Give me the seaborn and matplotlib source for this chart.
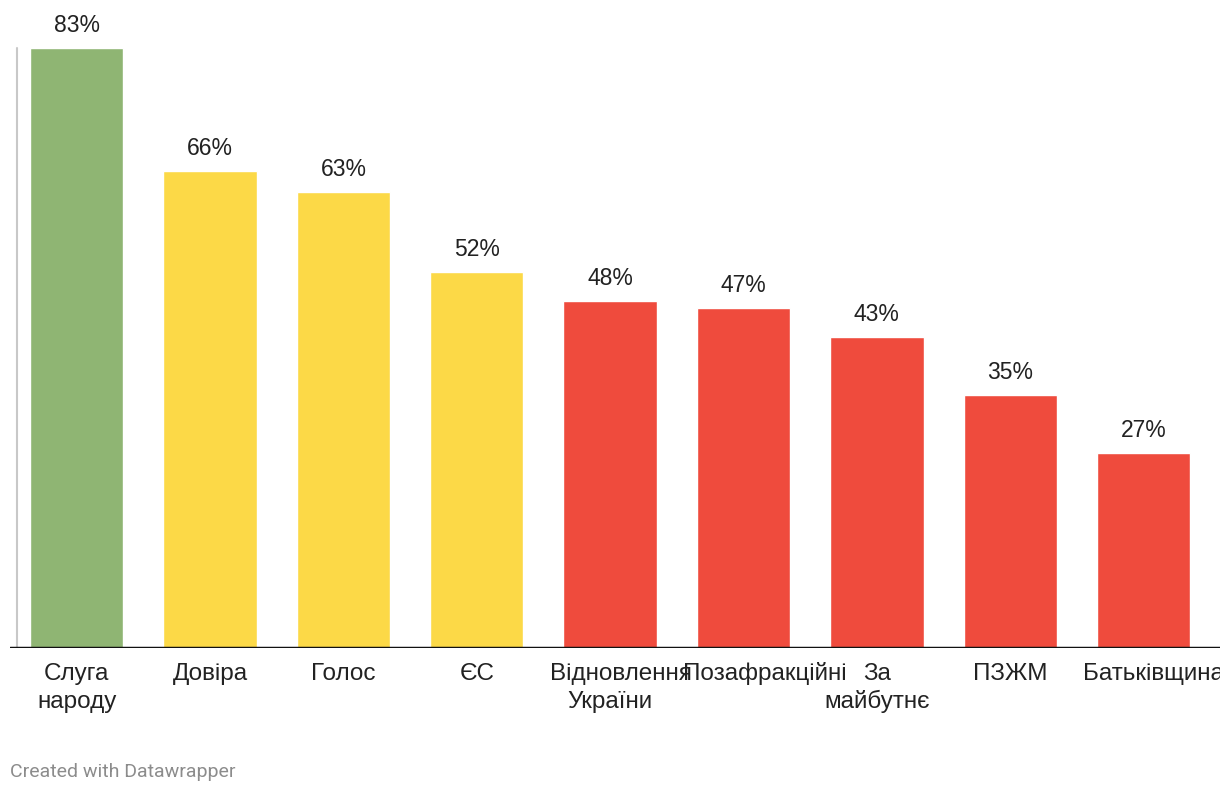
import pandas as pd
import matplotlib
matplotlib.use("Agg")
import matplotlib.pyplot as plt
import seaborn as sns

# Data
parties = ["Слуга\nнароду", "Довіра", "Голос", "ЄС", "Відновлення\nУкраїни",
           "Позафракційні", "За\nмайбутнє", "ПЗЖМ", "Батьківщина"]
shares = [83, 66, 63, 52, 48, 47, 43, 35, 27]
bar_colors = ["#8FB573", "#FCD947", "#FCD947", "#FCD947", "#EF4B3D",
              "#EF4B3D", "#EF4B3D", "#EF4B3D", "#EF4B3D"]

df = pd.DataFrame({"party": parties, "share": shares})

sns.set_style("white")
plt.rcParams['font.family'] = ['Liberation Sans', 'DejaVu Sans']

fig = plt.figure(figsize=(12.2, 7.96), dpi=100)
ax = fig.add_axes([10 / 1220, 148 / 796, 1210 / 1220, 648 / 796])

sns.barplot(data=df, x="party", y="share", hue="party", palette=bar_colors,
            width=0.7, saturation=1, legend=False, ax=ax)

# value labels above bars
for cont in ax.containers:
    ax.bar_label(cont, labels=[f"{v:.0f}%" for v in cont.datavalues],
                 padding=8, fontsize=16.5, color="#222222")

ax.set_xlim(-0.5, 8.573)
ax.set_ylim(0, 89.6)

# thin grey line on the left and black baseline
ax.axvline(-0.446, ymin=0, ymax=83 / 89.6, color="#c8c8c8", lw=1.5)
ax.axhline(0, color="#111111", lw=2.5)

for s in ax.spines.values():
    s.set_visible(False)
ax.set_yticks([])
ax.set_xticks(range(len(parties)))
ax.set_xticklabels([])
ax.tick_params(axis="x", length=0)
ax.set_xlabel("")
ax.set_ylabel("")

# category labels: centred in a ~121px box, long lines overflow to the right
fig.canvas.draw()
renderer = fig.canvas.get_renderer()
box_w = 121
for i, name in enumerate(parties):
    for j, line in enumerate(name.split("\n")):
        t = ax.annotate(line, xy=(i, 0), xycoords=("data", "axes fraction"),
                        xytext=(0, -32 - 28 * j), textcoords="offset pixels",
                        ha="center", va="baseline", fontsize=17.5,
                        color="#222222", annotation_clip=False)
        w = t.get_window_extent(renderer).width
        if w > box_w:
            t.set_ha("left")
            t.set_position((-box_w / 2, -32 - 28 * j))

fig.text(10 / 1220, 1 - 772 / 796, "Created with Datawrapper", fontsize=14,
         color="#8c8c8c", va="center", ha="left", family=["Roboto", "DejaVu Sans"])

fig.savefig("out.png", dpi=100)
